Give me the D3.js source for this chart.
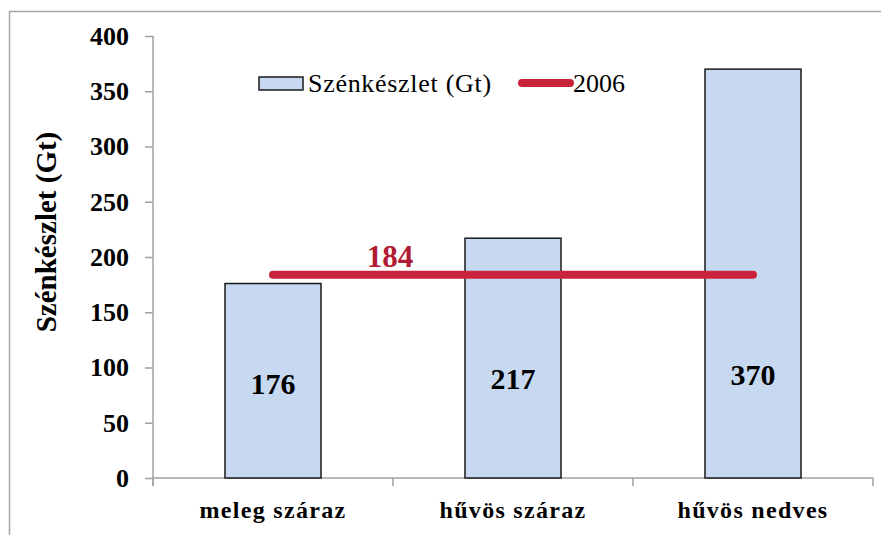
<!DOCTYPE html>
<html>
<head>
<meta charset="utf-8">
<script src="https://cdn.jsdelivr.net/npm/d3@7"></script>
<style>
  html, body { margin: 0; padding: 0; background: #fff; }
  svg { display: block; font-family: "Liberation Serif", "Times New Roman", serif; }
</style>
</head>
<body>
<svg id="chart" width="881" height="535"></svg>
<script>
// Carbon stock by climate type, with the 2006 reference level
const categories = ["meleg száraz", "hűvös száraz", "hűvös nedves"];
const stock = [176, 217, 370];
const level2006 = [184, 184, 184];
const yTicks = [0, 50, 100, 150, 200, 250, 300, 350, 400];
const seriesNames = ["Szénkészlet (Gt)", "2006"];
const axisTitle = "Szénkészlet (Gt)";

const svg = d3.select("#chart");
const margin = { left: 153, right: 8, top: 36, bottom: 57 };
const W = 881, H = 535;
const serif = "'Liberation Serif', 'Times New Roman', serif";

// outer frame
svg.append("rect")
  .attr("x", 9.5).attr("y", 11.5)
  .attr("width", W + 20).attr("height", H + 20)
  .attr("fill", "none").attr("stroke", "#a6a6a6").attr("stroke-width", 1.5);

const x = d3.scaleBand().domain(categories)
  .range([margin.left, W - margin.right]).paddingInner(0.6).paddingOuter(0.3);
const xc = d3.scalePoint().domain(categories)
  .range([margin.left, W - margin.right]).padding(0.5);
const y = d3.scaleLinear().domain([0, 400]).range([H - margin.bottom, margin.top]);

const axisColor = "#a0a0a0";

// y axis
const yAxis = svg.append("g")
  .attr("transform", `translate(${margin.left},0)`)
  .call(d3.axisLeft(y).tickValues(yTicks).tickSize(8).tickPadding(16));
yAxis.select(".domain").attr("stroke", axisColor).attr("stroke-width", 1.5)
  .attr("d", `M0,${y(400)}V${y(0) + 8}`);
yAxis.selectAll(".tick line").attr("stroke", axisColor).attr("stroke-width", 1.5);
yAxis.selectAll(".tick text")
  .attr("font-family", serif)
  .attr("font-size", 26).attr("font-weight", "bold").attr("fill", "#000");

// x axis with boundary ticks between categories
const xg = svg.append("g").attr("transform", `translate(0,${y(0)})`);
xg.append("line")
  .attr("x1", margin.left).attr("x2", W - margin.right)
  .attr("stroke", axisColor).attr("stroke-width", 1.5);
d3.range(categories.length + 1).forEach(i => {
  const px = margin.left + i * (W - margin.left - margin.right) / categories.length;
  xg.append("line").attr("x1", px).attr("x2", px).attr("y1", 0).attr("y2", 8)
    .attr("stroke", axisColor).attr("stroke-width", 1.5);
});
xg.selectAll("text.cat").data(categories).join("text")
  .attr("class", "cat")
  .attr("x", d => xc(d)).attr("y", 40)
  .attr("text-anchor", "middle")
  .attr("font-size", 24).attr("font-weight", "bold").attr("fill", "#000")
  .attr("letter-spacing", 1.3)
  .text(d => d);

// bars
svg.append("g").selectAll("rect").data(stock).join("rect")
  .attr("x", (d, i) => x(categories[i]))
  .attr("width", x.bandwidth())
  .attr("y", d => y(d))
  .attr("height", d => y(0) - y(d))
  .attr("fill", "#c6d9f1").attr("stroke", "#1a1a1a").attr("stroke-width", 1.5);

// value labels inside bars
const labelNudge = [5, 0, -4];
svg.append("g").selectAll("text").data(stock).join("text")
  .attr("x", (d, i) => xc(categories[i]))
  .attr("y", (d, i) => y(90) + 10 + labelNudge[i])
  .attr("text-anchor", "middle")
  .attr("font-size", 30).attr("font-weight", "bold").attr("fill", "#000")
  .text(d => d);

// 2006 level line
const lineColor = "#c8233b";
svg.append("path")
  .datum(level2006)
  .attr("d", d3.line().x((d, i) => xc(categories[i])).y(d => y(d)))
  .attr("fill", "none").attr("stroke", lineColor)
  .attr("stroke-width", 8).attr("stroke-linecap", "round");
svg.append("text")
  .attr("x", (xc(categories[0]) + xc(categories[1])) / 2 - 3)
  .attr("y", y(level2006[0]) - 8)
  .attr("text-anchor", "middle")
  .attr("font-size", 31).attr("font-weight", "bold").attr("fill", "#b01c34")
  .text(level2006[0]);

// legend
const lg = svg.append("g");
lg.append("rect").attr("x", 259).attr("y", 77).attr("width", 44).attr("height", 13)
  .attr("fill", "#c6d9f1").attr("stroke", "#1a1a1a").attr("stroke-width", 1.5);
lg.append("text").attr("x", 308).attr("y", 92)
  .attr("font-size", 26).attr("letter-spacing", 0.7).attr("fill", "#000").text(seriesNames[0]);
lg.append("line").attr("x1", 522).attr("x2", 570).attr("y1", 83).attr("y2", 83)
  .attr("stroke", lineColor).attr("stroke-width", 8).attr("stroke-linecap", "round");
lg.append("text").attr("x", 573).attr("y", 92)
  .attr("font-size", 26).attr("fill", "#000").text(seriesNames[1]);

// y axis title
svg.append("text")
  .attr("transform", `translate(56,232) rotate(-90)`)
  .attr("text-anchor", "middle")
  .attr("font-size", 29).attr("font-weight", "bold").attr("fill", "#000")
  .text(axisTitle);
</script>
</body>
</html>
